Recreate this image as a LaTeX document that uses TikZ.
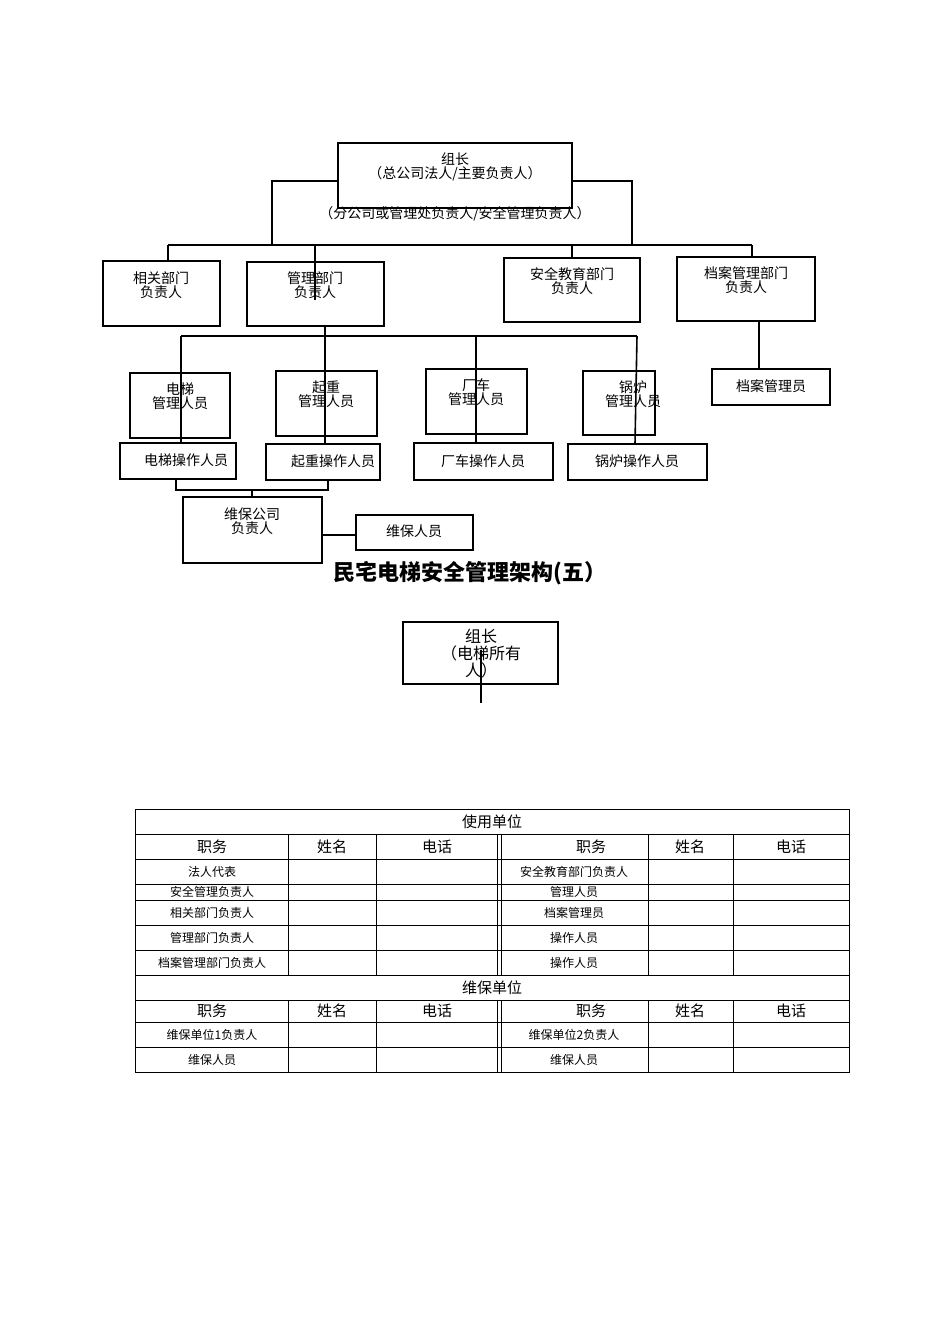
\documentclass[tikz,border=0pt]{standalone}
\usepackage{fontspec}
\setmainfont{Noto Sans CJK SC}
\begin{document}
\begin{tikzpicture}[x=1pt,y=-1pt,
 bx/.style={draw,line width=1.6pt},
 ln/.style={line width=1.6pt},
 lab/.style={font=\fontsize{14}{14}\selectfont,align=center,inner sep=0pt},
 tc/.style={font=\fontsize{12}{12}\selectfont,inner sep=0pt},
 th/.style={font=\fontsize{15}{15}\selectfont,inner sep=0pt}]
\useasboundingbox (0,0) rectangle (950,1344);
% top structure
\draw[bx,fill=white] (272,181) rectangle (632,245);
\draw[ln] (168,245) -- (752,245);
\draw[bx,fill=white] (338,143) rectangle (572,208);
\node[lab] (t1) at (455,167) {组长\\（总公司法人/主要负责人）};
\node[lab] (t2) at (455,214) {（分公司或管理处负责人/安全管理负责人）};
\draw[ln] (168,245)--(168,261) (315,245)--(315,300) (572,245)--(572,258) (752,245)--(752,257);
\draw[bx] (103,261) rectangle (220,326); \node[lab] (a1) at (161,285) {相关部门\\负责人};
\draw[bx] (247,262) rectangle (384,326); \node[lab] (a2) at (315,285) {管理部门\\负责人};
\draw[bx] (504,258) rectangle (640,322); \node[lab] (a3) at (572,281) {安全教育部门\\负责人};
\draw[bx] (677,257) rectangle (815,321); \node[lab] (a4) at (746,280) {档案管理部门\\负责人};
% second level
\draw[ln] (325,326)--(325,336) (181,336)--(637,336);
\draw[ln] (181,336)--(181,443) (325,336)--(325,444) (476,336)--(476,443) (637,336)--(635,444);
\draw[bx] (130,373) rectangle (230,438); \node[lab] (b1) at (180,396) {电梯\\管理人员};
\draw[bx] (276,371) rectangle (377,436); \node[lab] (b2) at (326,394) {起重\\管理人员};
\draw[bx] (426,369) rectangle (527,434); \node[lab] (b3) at (476,392) {厂车\\管理人员};
\draw[bx] (583,371) rectangle (655,435); \node[lab] (b4) at (633,394) {锅炉\\管理人员};
\draw[ln] (759,321)--(759,369);
\draw[bx] (712,369) rectangle (830,405); \node[lab] (b5) at (771,386) {档案管理员};
\draw[bx] (120,443) rectangle (236,479); \node[lab] (c1) at (186,460) {电梯操作人员};
\draw[bx] (266,444) rectangle (380,480); \node[lab] (c2) at (333,461) {起重操作人员};
\draw[bx] (414,443) rectangle (553,480); \node[lab] (c3) at (483,461) {厂车操作人员};
\draw[bx] (568,444) rectangle (707,480); \node[lab] (c4) at (637,461) {锅炉操作人员};
\draw[ln] (176,479)--(176,490)--(328,490)--(328,480) (252,490)--(252,497);
\draw[bx] (183,497) rectangle (322,563); \node[lab] (d1) at (252,521) {维保公司\\负责人};
\draw[ln] (322,535)--(356,535);
\draw[bx] (356,515) rectangle (473,550); \node[lab] (d2) at (414,531) {维保人员};
\node[font=\fontsize{22}{22}\selectfont\bfseries,inner sep=0pt] (title) at (470,573) {民宅电梯安全管理架构(五）};
% second chart
\draw[bx] (403,622) rectangle (558,684);
\begin{scope}
\clip (403,622) rectangle (558,682);
\node[font=\fontsize{16}{17}\selectfont,align=center,inner sep=0pt,anchor=north] (e1) at (481,629) {组长\\（电梯所有\\人）};
\end{scope}
\draw[ln] (481,650)--(481,703);
% table
\draw[line width=0.6pt] (135,809) rectangle (849,1072);
\foreach \y in {834,859,884,900,925,950,975,1000,1022,1047}{\draw[line width=0.6pt] (135,\y)--(849,\y);}
\foreach \x in {288,376,497,501,648,733}{\draw[line width=0.6pt] (\x,834)--(\x,975) (\x,1000)--(\x,1072);}
\node[th] (h1) at (492,822) {使用单位};
\node[th] (h2) at (492,988) {维保单位};
\foreach \yy in {847,1011}{
 \node[th] at (212,\yy) {职务}; \node[th] at (332,\yy) {姓名}; \node[th] at (437,\yy) {电话};
 \node[th] at (591,\yy) {职务}; \node[th] at (690,\yy) {姓名}; \node[th] at (791,\yy) {电话};}
\node[tc] at (212,872) {法人代表}; \node[tc] at (574,872) {安全教育部门负责人};
\node[tc] at (212,892) {安全管理负责人}; \node[tc] at (574,892) {管理人员};
\node[tc] at (212,913) {相关部门负责人}; \node[tc] at (574,913) {档案管理员};
\node[tc] at (212,938) {管理部门负责人}; \node[tc] at (574,938) {操作人员};
\node[tc] at (212,963) {档案管理部门负责人}; \node[tc] at (574,963) {操作人员};
\node[tc] at (212,1035) {维保单位1负责人}; \node[tc] at (574,1035) {维保单位2负责人};
\node[tc] at (212,1060) {维保人员}; \node[tc] at (574,1060) {维保人员};
\end{tikzpicture}
\end{document}
